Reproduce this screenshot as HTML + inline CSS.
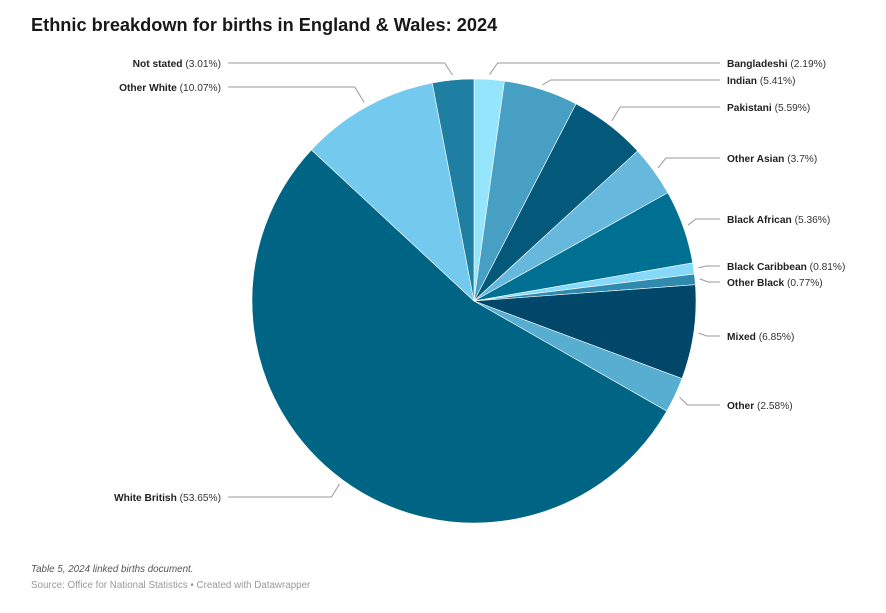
<!DOCTYPE html>
<html><head><meta charset="utf-8"><style>
body{margin:0;background:#fff;font-family:"Liberation Sans",sans-serif;}
#wrap{position:relative;width:886px;height:613px;overflow:hidden;}
h1{position:absolute;left:31px;top:15px;margin:0;font-size:18.2px;font-weight:bold;color:#181818;}
.note{position:absolute;left:31px;font-size:9.8px;}
</style></head><body>
<div id="wrap">
<h1>Ethnic breakdown for births in England &amp; Wales: 2024</h1>
<svg id="pie" width="886" height="613" style="position:absolute;left:0;top:0"></svg>
<div class="note" style="top:564px;font-style:italic;color:#555">Table 5, 2024 linked births document.</div>
<div class="note" style="top:580px;color:#999">Source: Office for National Statistics • Created with Datawrapper</div>
</div>
<script>
const categories=["Bangladeshi","Indian","Pakistani","Other Asian","Black African","Black Caribbean","Other Black","Mixed","Other","White British","Other White","Not stated"];
const values=[2.19,5.41,5.59,3.7,5.36,0.81,0.77,6.85,2.58,53.65,10.07,3.01];
const colors=["#95e6fd","#47a0c3","#04597a","#66b9dc","#007092","#87d9fa","#2f8aae","#00476a","#58aed0","#006584","#74c9ef","#1f7fa2"];
const labelY=[63,80,107,158,219,266,282,336,405,497,87,63];
const cx=474,cy=301,r=222,NS="http://www.w3.org/2000/svg";
const svg=document.getElementById('pie');
const total=values.reduce((a,b)=>a+b,0);
function pt(a,rr){return [cx+rr*Math.sin(a),cy-rr*Math.cos(a)];}
let acc=0;
values.forEach((v,i)=>{
  const a0=acc/total*2*Math.PI;acc+=v;const a1=acc/total*2*Math.PI;
  const p0=pt(a0,r),p1=pt(a1,r),large=(a1-a0)>Math.PI?1:0;
  const path=document.createElementNS(NS,'path');
  path.setAttribute('d',`M${cx},${cy}L${p0[0]},${p0[1]}A${r},${r} 0 ${large} 1 ${p1[0]},${p1[1]}Z`);
  path.setAttribute('fill',colors[i]);path.setAttribute('stroke','#fff');path.setAttribute('stroke-width','0.6');
  
  
  svg.appendChild(path);
  const am=(a0+a1)/2,right=Math.sin(am)>=0;
  const s=pt(am,r+5);const ly=labelY[i];
  const ex=s[0]+(right?1:-1)*Math.max(8,Math.abs(ly-s[1])*0.6);
  const endX=right?720:228;
  const line=document.createElementNS(NS,'polyline');
  line.setAttribute('points',`${s[0]},${s[1]} ${ex},${ly} ${endX},${ly}`);
  line.setAttribute('fill','none');line.setAttribute('stroke','#999');line.setAttribute('stroke-width','1');
  
  
  svg.appendChild(line);
  const t=document.createElementNS(NS,'text');
  t.setAttribute('x',right?727:221);t.setAttribute('y',ly+4);
  t.setAttribute('text-anchor',right?'start':'end');
  t.setAttribute('font-size','10.2');t.setAttribute('fill','#333');
  t.setAttribute('font-family','Liberation Sans, sans-serif');
  
  
  const b=document.createElementNS(NS,'tspan');b.setAttribute('font-weight','bold');b.setAttribute('fill','#222');b.textContent=categories[i];
  const n=document.createElementNS(NS,'tspan');n.textContent=' ('+values[i]+'%)';
  t.appendChild(b);t.appendChild(n);svg.appendChild(t);
});
</script>
</body></html>
